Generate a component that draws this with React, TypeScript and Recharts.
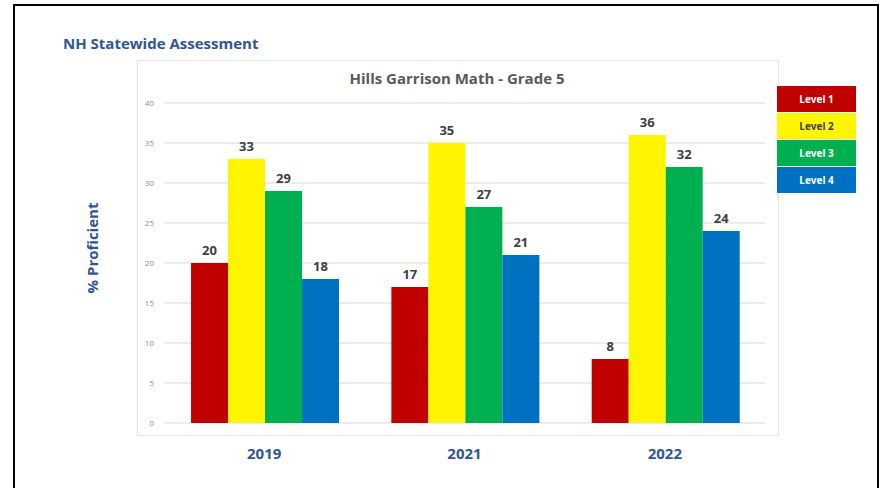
import { BarChart, Bar, XAxis, YAxis, CartesianGrid, LabelList } from "recharts";

const years = ["2019", "2021", "2022"];
const level1 = [20, 17, 8];
const level2 = [33, 35, 36];
const level3 = [29, 27, 32];
const level4 = [18, 21, 24];
const yTicks = [0, 5, 10, 15, 20, 25, 30, 35, 40];

const levels = [
  { key: "l1", name: "Level 1", color: "#C00000", text: "#FFFFFF" },
  { key: "l2", name: "Level 2", color: "#FFF500", text: "#404040" },
  { key: "l3", name: "Level 3", color: "#00B050", text: "#FFFFFF" },
  { key: "l4", name: "Level 4", color: "#0070C0", text: "#FFFFFF" },
];

const data = years.map((y, i) => ({
  year: y,
  l1: level1[i],
  l2: level2[i],
  l3: level3[i],
  l4: level4[i],
}));

const font = "'Open Sans', 'Liberation Sans', sans-serif";
const blue = "#2F5597";

// legend drawn as plain boxes next to the chart, like the original
const LegendBoxes = () => (
  <div style={{ position: "absolute", left: 777, top: 86, width: 79 }}>
    {levels.map((l) => (
      <div
        key={l.key}
        style={{
          background: l.color,
          color: l.text,
          height: 26,
          lineHeight: "26px",
          marginBottom: 1,
          textAlign: "center",
          fontSize: 10,
          fontWeight: 700,
        }}
      >
        {l.name}
      </div>
    ))}
  </div>
);

export default function App() {
  return (
    <div style={{ position: "absolute", left: 0, top: 0, width: 880, height: 488, background: "#fff", overflow: "hidden", fontFamily: font }}>
      <div style={{ position: "absolute", left: 13, top: 4, width: 862, height: 500, border: "2px solid #000" }} />
      <div style={{ position: "absolute", left: 63, top: 33, color: blue, fontWeight: 700, fontSize: 15 }}>
        NH Statewide Assessment
      </div>
      <div style={{ position: "absolute", left: 137, top: 60, width: 640, height: 374, border: "1px solid #E4E4E4" }} />
      <div style={{ position: "absolute", left: 137, top: 68, width: 640, textAlign: "center", color: "#595959", fontWeight: 700, fontSize: 15 }}>
        Hills Garrison Math - Grade 5
      </div>
      <div
        style={{
          position: "absolute",
          left: 92,
          top: 248,
          transform: "translate(-50%, -50%) rotate(-90deg)",
          whiteSpace: "nowrap",
          color: blue,
          fontWeight: 700,
          fontSize: 15,
        }}
      >
        % Proficient
      </div>
      <div style={{ position: "absolute", left: 0, top: 0 }}>
        <BarChart
          width={880}
          height={488}
          data={data}
          margin={{ top: 103, right: 115, bottom: 0, left: 134 }}
          barCategoryGap="13.5%"
          barGap={0}
        >
          <CartesianGrid vertical={false} stroke="#D9D9D9" />
          <XAxis
            dataKey="year"
            axisLine={false}
            tickLine={false}
            tickMargin={19}
            height={65}
            tick={{ fill: blue, fontSize: 15, fontWeight: 700, fontFamily: font }}
          />
          <YAxis
            width={30}
            domain={[0, 40]}
            ticks={yTicks}
            axisLine={false}
            tickLine={false}
            tickMargin={4}
            tick={{ fill: "#8C8C8C", fontSize: 8, fontFamily: font }}
          />
          {levels.map((l) => (
            <Bar key={l.key} dataKey={l.key} name={l.name} fill={l.color} isAnimationActive={false}>
              <LabelList
                dataKey={l.key}
                position="top"
                offset={8}
                fill="#404040"
                fontSize={13}
                fontWeight={700}
                fontFamily={font}
              />
            </Bar>
          ))}
        </BarChart>
      </div>
      <LegendBoxes />
    </div>
  );
}
